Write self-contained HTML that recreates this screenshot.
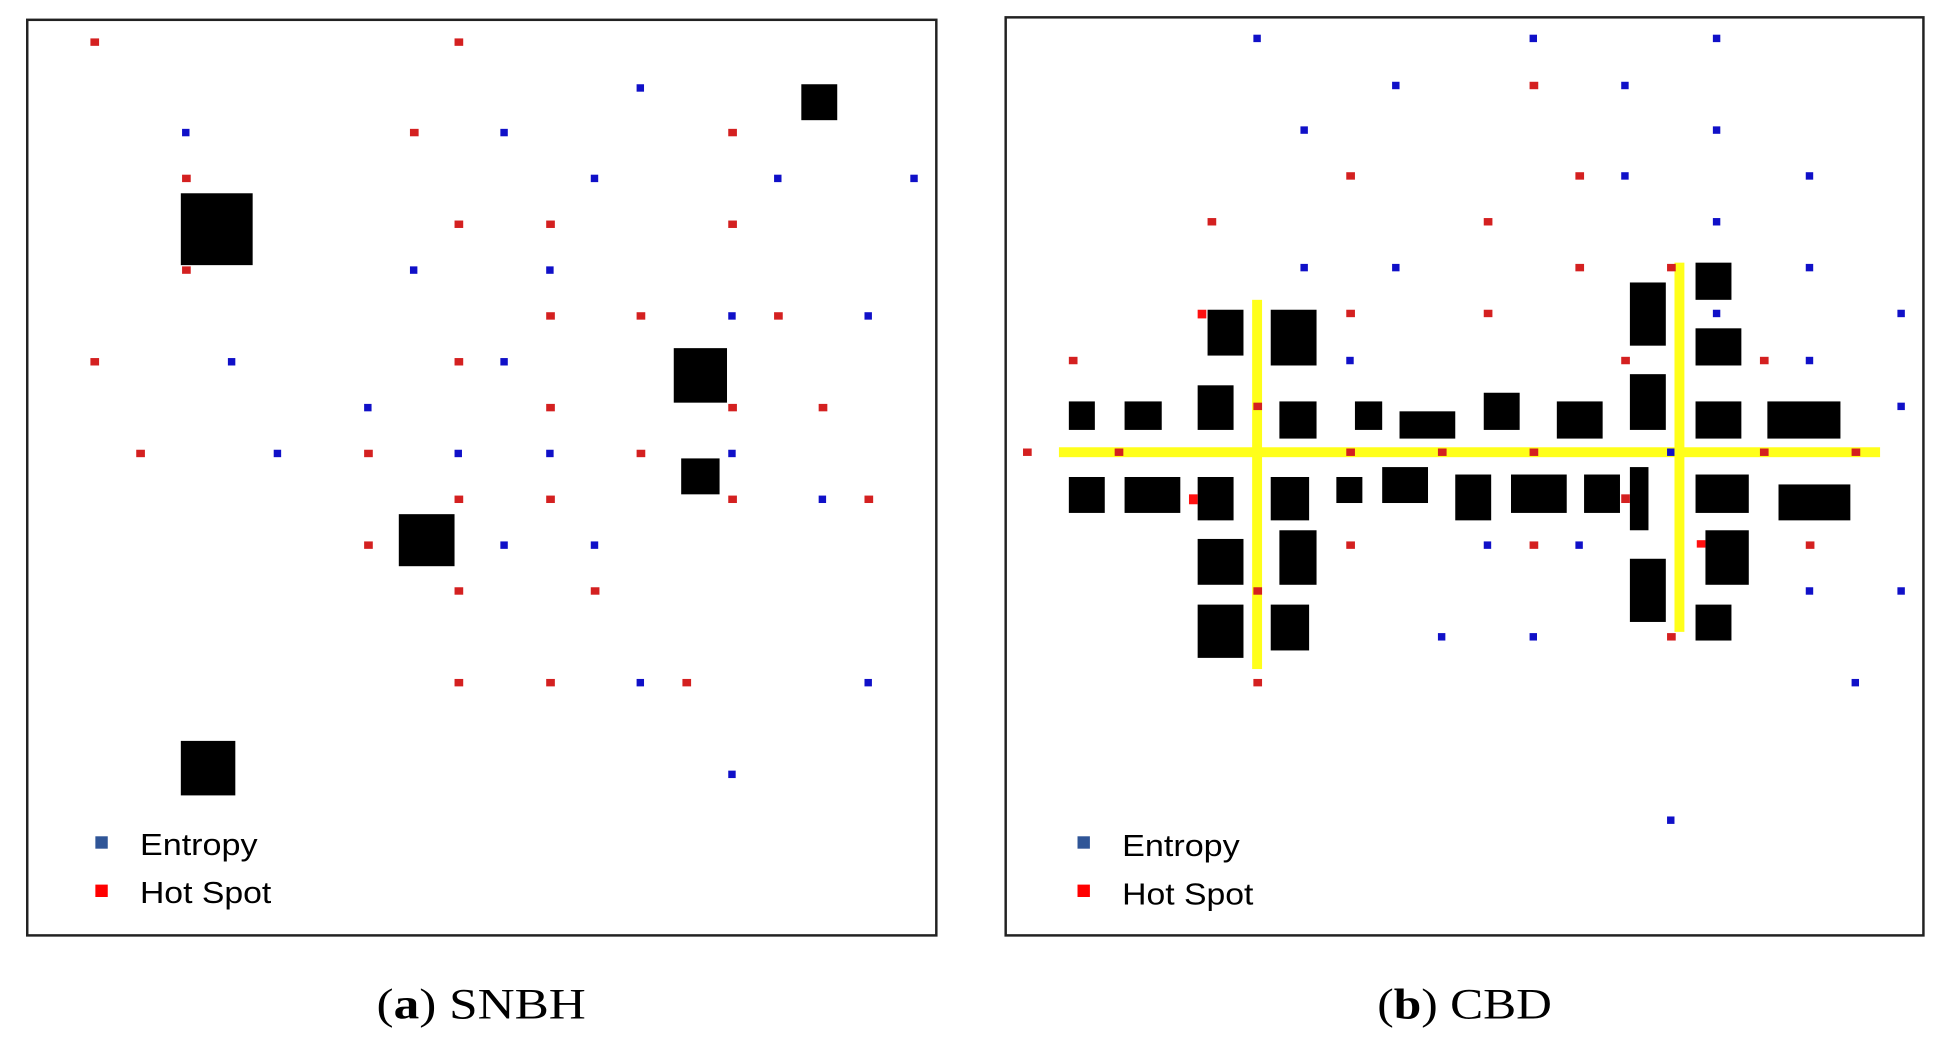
<!DOCTYPE html>
<html><head><meta charset="utf-8"><style>
html,body{margin:0;padding:0;background:#fff;}
svg{display:block;}
</style></head><body>
<svg width="1942" height="1037" viewBox="0 0 1568 837" preserveAspectRatio="none" xmlns="http://www.w3.org/2000/svg">
<rect width="1568" height="837" fill="#fff"/>
<!-- Left panel -->
<rect x="22" y="16" width="734" height="739" fill="#fff" stroke="#222" stroke-width="2"/>
<g fill="#000">
<rect x="146" y="156" width="58" height="58"/>
<rect x="647" y="68" width="29" height="29"/>
<rect x="544" y="281" width="43" height="44"/>
<rect x="550" y="370" width="31" height="29"/>
<rect x="322" y="415" width="45" height="42"/>
<rect x="146" y="598" width="44" height="44"/>
</g>
<g fill="#d42020">
<rect x="73" y="31" width="7" height="6"/><rect x="367" y="31" width="7" height="6"/>
<rect x="331" y="104" width="7" height="6"/><rect x="588" y="104" width="7" height="6"/>
<rect x="147" y="141" width="7" height="6"/>
<rect x="367" y="178" width="7" height="6"/><rect x="441" y="178" width="7" height="6"/><rect x="588" y="178" width="7" height="6"/>
<rect x="147" y="215" width="7" height="6"/>
<rect x="441" y="252" width="7" height="6"/><rect x="514" y="252" width="7" height="6"/><rect x="625" y="252" width="7" height="6"/>
<rect x="73" y="289" width="7" height="6"/><rect x="367" y="289" width="7" height="6"/>
<rect x="441" y="326" width="7" height="6"/><rect x="588" y="326" width="7" height="6"/><rect x="661" y="326" width="7" height="6"/>
<rect x="110" y="363" width="7" height="6"/><rect x="294" y="363" width="7" height="6"/><rect x="514" y="363" width="7" height="6"/>
<rect x="367" y="400" width="7" height="6"/><rect x="441" y="400" width="7" height="6"/><rect x="588" y="400" width="7" height="6"/><rect x="698" y="400" width="7" height="6"/>
<rect x="294" y="437" width="7" height="6"/>
<rect x="367" y="474" width="7" height="6"/><rect x="477" y="474" width="7" height="6"/>
<rect x="367" y="548" width="7" height="6"/><rect x="441" y="548" width="7" height="6"/><rect x="551" y="548" width="7" height="6"/>
</g>
<g fill="#1010c8">
<rect x="514" y="68" width="6" height="6"/>
<rect x="147" y="104" width="6" height="6"/><rect x="404" y="104" width="6" height="6"/>
<rect x="477" y="141" width="6" height="6"/><rect x="625" y="141" width="6" height="6"/><rect x="735" y="141" width="6" height="6"/>
<rect x="331" y="215" width="6" height="6"/><rect x="441" y="215" width="6" height="6"/>
<rect x="588" y="252" width="6" height="6"/><rect x="698" y="252" width="6" height="6"/>
<rect x="184" y="289" width="6" height="6"/><rect x="404" y="289" width="6" height="6"/>
<rect x="294" y="326" width="6" height="6"/>
<rect x="221" y="363" width="6" height="6"/><rect x="367" y="363" width="6" height="6"/><rect x="441" y="363" width="6" height="6"/><rect x="588" y="363" width="6" height="6"/>
<rect x="661" y="400" width="6" height="6"/>
<rect x="404" y="437" width="6" height="6"/><rect x="477" y="437" width="6" height="6"/>
<rect x="514" y="548" width="6" height="6"/><rect x="698" y="548" width="6" height="6"/>
<rect x="588" y="622" width="6" height="6"/>
</g>
<rect x="77" y="675" width="10" height="10" fill="#2f5597"/>
<rect x="77" y="714" width="10" height="10" fill="#ff0000"/>
<text x="113" y="690" font-family="Liberation Sans, sans-serif" font-size="25" textLength="95" lengthAdjust="spacingAndGlyphs" fill="#000">Entropy</text>
<text x="113" y="729" font-family="Liberation Sans, sans-serif" font-size="25" textLength="106" lengthAdjust="spacingAndGlyphs" fill="#000">Hot Spot</text>
<text x="304" y="822" font-family="Liberation Serif, serif" font-size="35" textLength="169" lengthAdjust="spacingAndGlyphs" fill="#000">(<tspan font-weight="bold">a</tspan>) SNBH</text>

<!-- Right panel -->
<rect x="812" y="14" width="741" height="741" fill="#fff" stroke="#222" stroke-width="2"/>
<g fill="#ffff1a">
<rect x="855" y="361" width="663" height="8"/>
<rect x="1011" y="242" width="8" height="298"/>
<rect x="1352" y="212" width="8" height="298"/>
</g>
<g fill="#000">
<rect x="975" y="250" width="29" height="37"/><rect x="1026" y="250" width="37" height="45"/>
<rect x="1316" y="228" width="29" height="51"/><rect x="1369" y="212" width="29" height="30"/>
<rect x="1369" y="265" width="37" height="30"/><rect x="1316" y="302" width="29" height="45"/>
<rect x="863" y="324" width="21" height="23"/><rect x="908" y="324" width="30" height="23"/>
<rect x="967" y="311" width="29" height="36"/><rect x="1033" y="324" width="30" height="30"/>
<rect x="1094" y="324" width="22" height="23"/><rect x="1130" y="332" width="45" height="22"/>
<rect x="1198" y="317" width="29" height="30"/><rect x="1257" y="324" width="37" height="30"/>
<rect x="1369" y="324" width="37" height="30"/><rect x="1427" y="324" width="59" height="30"/>
<rect x="863" y="385" width="29" height="29"/><rect x="908" y="385" width="45" height="29"/>
<rect x="967" y="385" width="29" height="35"/><rect x="1026" y="385" width="31" height="35"/>
<rect x="1079" y="385" width="21" height="21"/><rect x="1116" y="377" width="37" height="29"/>
<rect x="1175" y="383" width="29" height="37"/><rect x="1220" y="383" width="45" height="31"/>
<rect x="1279" y="383" width="29" height="31"/><rect x="1316" y="377" width="15" height="51"/>
<rect x="1369" y="383" width="43" height="31"/><rect x="1436" y="391" width="58" height="29"/>
<rect x="967" y="435" width="37" height="37"/><rect x="1033" y="428" width="30" height="44"/>
<rect x="967" y="488" width="37" height="43"/><rect x="1026" y="488" width="31" height="37"/>
<rect x="1316" y="451" width="29" height="51"/><rect x="1377" y="428" width="35" height="44"/>
<rect x="1369" y="488" width="29" height="29"/>
</g>
<g fill="#d42020">
<rect x="1235" y="66" width="7" height="6"/>
<rect x="1087" y="139" width="7" height="6"/><rect x="1272" y="139" width="7" height="6"/>
<rect x="975" y="176" width="7" height="6"/><rect x="1198" y="176" width="7" height="6"/>
<rect x="1272" y="213" width="7" height="6"/><rect x="1346" y="213" width="7" height="6"/>
<rect x="967" y="250" width="7" height="7" fill="#ff1010"/><rect x="1087" y="250" width="7" height="6"/><rect x="1198" y="250" width="7" height="6"/>
<rect x="863" y="288" width="7" height="6"/><rect x="1309" y="288" width="7" height="6"/><rect x="1421" y="288" width="7" height="6"/>
<rect x="1012" y="325" width="7" height="6"/>
<rect x="826" y="362" width="7" height="6"/><rect x="900" y="362" width="7" height="6"/><rect x="1087" y="362" width="7" height="6"/><rect x="1161" y="362" width="7" height="6"/><rect x="1235" y="362" width="7" height="6"/><rect x="1421" y="362" width="7" height="6"/><rect x="1495" y="362" width="7" height="6"/>
<rect x="960" y="399" width="7" height="8" fill="#ff1010"/><rect x="1309" y="399" width="7" height="7"/>
<rect x="1087" y="437" width="7" height="6"/><rect x="1235" y="437" width="7" height="6"/><rect x="1370" y="436" width="7" height="6" fill="#ff1010"/><rect x="1458" y="437" width="7" height="6"/>
<rect x="1012" y="474" width="7" height="6"/>
<rect x="1346" y="511" width="7" height="6"/>
<rect x="1012" y="548" width="7" height="6"/>
</g>
<g fill="#1010c8">
<rect x="1012" y="28" width="6" height="6"/><rect x="1235" y="28" width="6" height="6"/><rect x="1383" y="28" width="6" height="6"/>
<rect x="1124" y="66" width="6" height="6"/><rect x="1309" y="66" width="6" height="6"/>
<rect x="1050" y="102" width="6" height="6"/><rect x="1383" y="102" width="6" height="6"/>
<rect x="1309" y="139" width="6" height="6"/><rect x="1458" y="139" width="6" height="6"/>
<rect x="1383" y="176" width="6" height="6"/>
<rect x="1050" y="213" width="6" height="6"/><rect x="1124" y="213" width="6" height="6"/><rect x="1458" y="213" width="6" height="6"/>
<rect x="1383" y="250" width="6" height="6"/><rect x="1532" y="250" width="6" height="6"/>
<rect x="1087" y="288" width="6" height="6"/><rect x="1458" y="288" width="6" height="6"/>
<rect x="1532" y="325" width="6" height="6"/>
<rect x="1346" y="362" width="6" height="6"/>
<rect x="1198" y="437" width="6" height="6"/><rect x="1272" y="437" width="6" height="6"/>
<rect x="1458" y="474" width="6" height="6"/><rect x="1532" y="474" width="6" height="6"/>
<rect x="1161" y="511" width="6" height="6"/><rect x="1235" y="511" width="6" height="6"/>
<rect x="1495" y="548" width="6" height="6"/>
<rect x="1346" y="659" width="6" height="6"/>
</g>
<rect x="870" y="675" width="10" height="10" fill="#2f5597"/>
<rect x="870" y="714" width="10" height="10" fill="#ff0000"/>
<text x="906" y="691" font-family="Liberation Sans, sans-serif" font-size="25" textLength="95" lengthAdjust="spacingAndGlyphs" fill="#000">Entropy</text>
<text x="906" y="730" font-family="Liberation Sans, sans-serif" font-size="25" textLength="106" lengthAdjust="spacingAndGlyphs" fill="#000">Hot Spot</text>
<text x="1112" y="822" font-family="Liberation Serif, serif" font-size="35" textLength="141" lengthAdjust="spacingAndGlyphs" fill="#000">(<tspan font-weight="bold">b</tspan>) CBD</text>
</svg>
</body></html>
